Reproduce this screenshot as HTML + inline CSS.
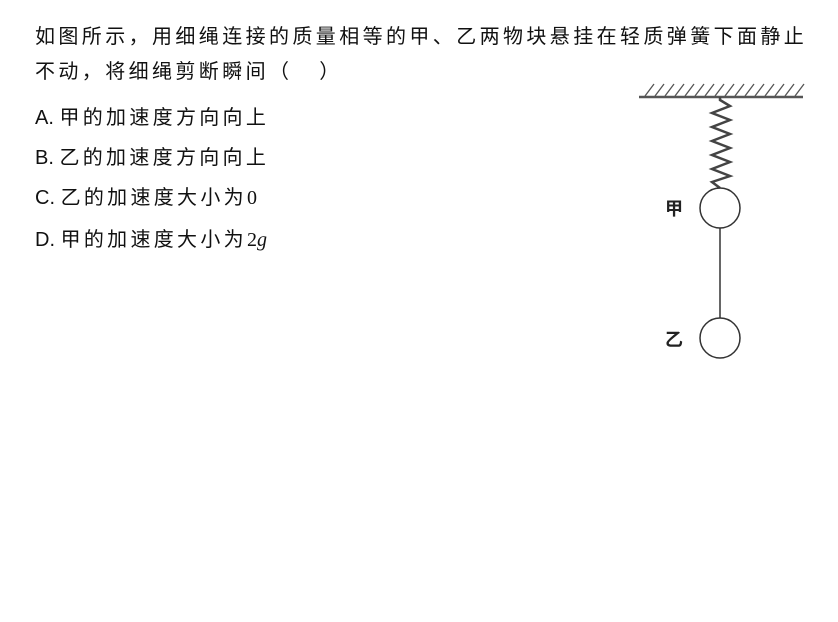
<!DOCTYPE html>
<html><head><meta charset="utf-8"><style>
body{margin:0;width:838px;height:622px;background:#fff;overflow:hidden;position:relative;font-family:"Liberation Sans","Noto Sans CJK SC",sans-serif;color:#111}
.t{position:absolute;left:35px;font-size:20px;letter-spacing:3.4px;white-space:nowrap;line-height:24px}
.o{letter-spacing:3.3px}
.l{letter-spacing:0}
.s{font-family:'Liberation Serif',serif;letter-spacing:0}
</style></head><body>
<div class="t" style="top:25px">如图所示，用细绳连接的质量相等的甲、乙两物块悬挂在轻质弹簧下面静止</div>
<div class="t" style="top:60px">不动，将细绳剪断瞬间（&nbsp;&nbsp;&nbsp;）</div>
<div class="t o" style="top:106px"><span class="l">A.&nbsp;</span>甲的加速度方向向上</div>
<div class="t o" style="top:146px"><span class="l">B.&nbsp;</span>乙的加速度方向向上</div>
<div class="t o" style="top:186px"><span class="l">C.&nbsp;</span>乙的加速度大小为<span class="s">0</span></div>
<div class="t o" style="top:228px"><span class="l">D.&nbsp;</span>甲的加速度大小为<span class="s">2<i>g</i></span></div>
<svg width="838" height="622" style="position:absolute;left:0;top:0">
<g stroke="#555" stroke-width="1.3">
<line x1="639" y1="97" x2="803" y2="97" stroke-width="2.5"/>
<path d="M645 96 L654 84 M655 96 L664 84 M665 96 L674 84 M675 96 L684 84 M685 96 L694 84 M695 96 L704 84 M705 96 L714 84 M715 96 L724 84 M725 96 L734 84 M735 96 L744 84 M745 96 L754 84 M755 96 L764 84 M765 96 L774 84 M775 96 L784 84 M785 96 L794 84 M795 96 L804 84"/>
</g>
<polyline fill="none" stroke="#444" stroke-width="2.5" points="720,97 720,100 730,106 712,113 730,120 712,127 730,134 712,141 730,148 712,155 730,162 712,169 730,176 712,182 720,188"/>
<g stroke="#333" stroke-width="1.5" fill="none">
<circle cx="720" cy="208" r="20"/>
<line x1="720" y1="228" x2="720" y2="318"/>
<circle cx="720" cy="338" r="20"/>
</g>
<text x="665" y="215" font-size="18" font-family="Liberation Sans,Noto Sans CJK SC,sans-serif" font-weight="bold" fill="#222">甲</text>
<text x="665" y="346" font-size="18" font-family="Liberation Sans,Noto Sans CJK SC,sans-serif" font-weight="bold" fill="#222">乙</text>
</svg>
</body></html>
